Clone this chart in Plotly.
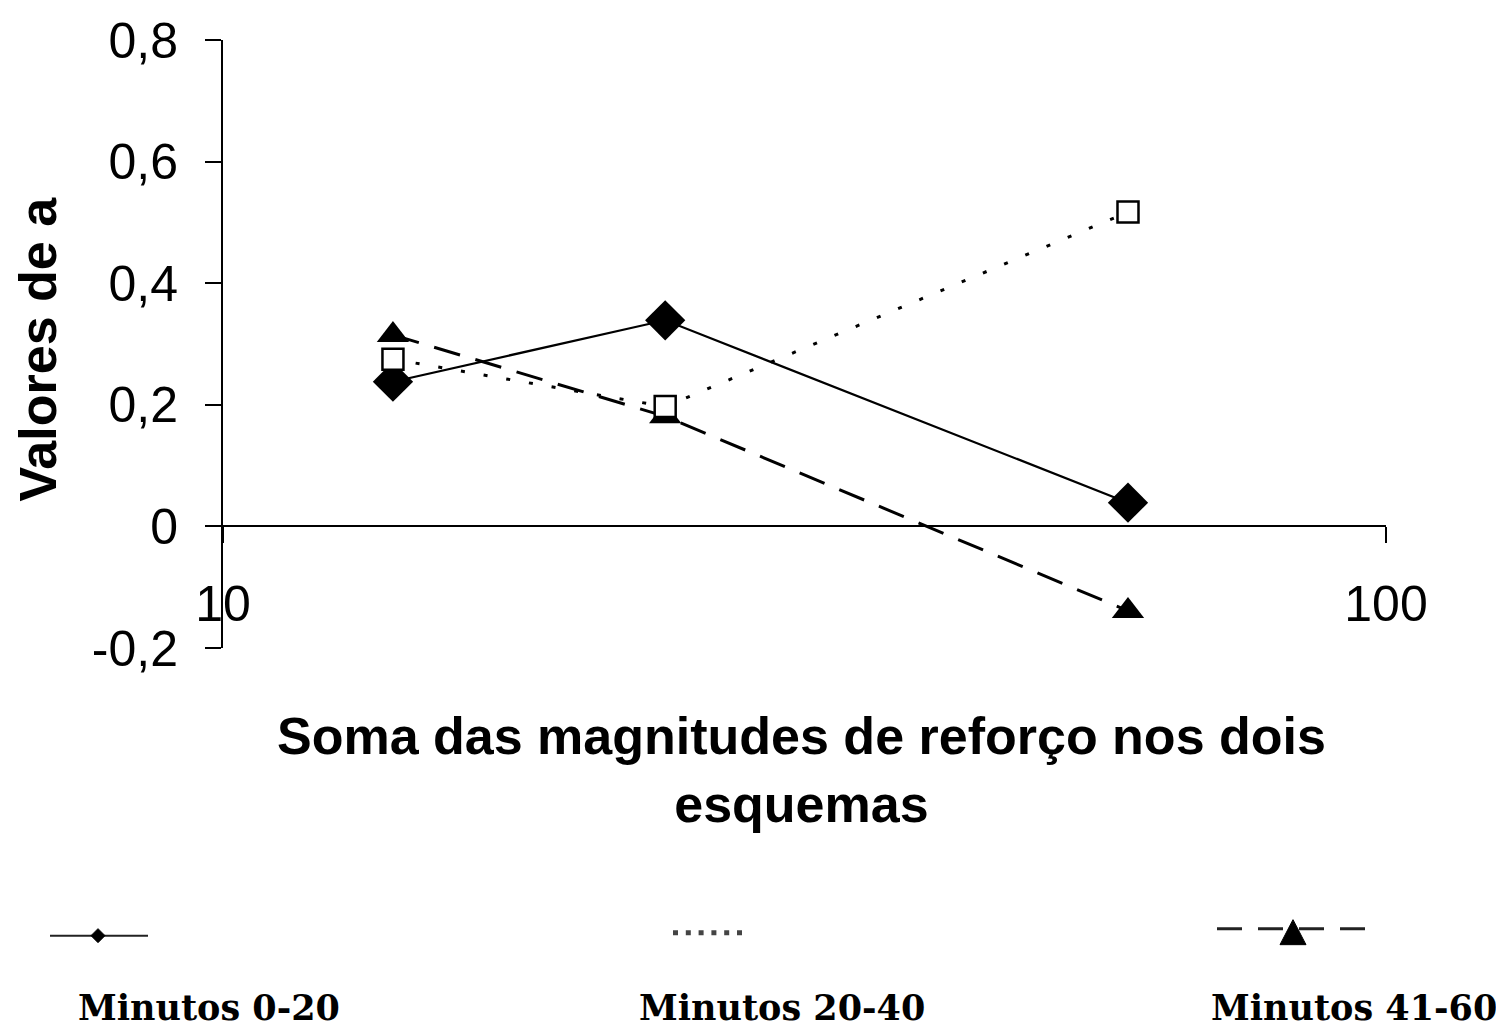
import plotly.graph_objects as go

# ---- data ----
x_vals = [14, 24, 60]
min_0_20 = [0.238, 0.339, 0.039]
min_20_40 = [0.275, 0.197, 0.517]
min_41_60 = [0.315, 0.181, -0.139]
series_names = ["Minutos 0-20", "Minutos 20-40", "Minutos 41-60"]

y_tickvals = [-0.2, 0, 0.2, 0.4, 0.6, 0.8]
y_ticktext = ["-0,2", "0", "0,2", "0,4", "0,6", "0,8"]
x_tickvals = [10, 100]
x_ticktext = ["10", "100"]

x_title = "Soma das magnitudes de reforço nos dois<br>esquemas"
y_title = "Valores de a"

# ---- layout geometry (pixels) ----
W, H = 1496, 1029
L, R, T, B = 223, 110, 35, 381
PW = W - L - R
PH = H - T - B


def px(xp):
    return (xp - L) / PW


def py(yp):
    return (H - B - yp) / PH


sans = "Liberation Sans, Arial, sans-serif"
serif = "DejaVu Serif, Georgia, serif"

fig = go.Figure()

fig.add_trace(go.Scatter(
    x=x_vals, y=min_0_20, name=series_names[0], mode="lines+markers",
    line=dict(color="black", width=2.2),
    marker=dict(symbol="diamond", size=31, color="black"),
    showlegend=False,
))
fig.add_trace(go.Scatter(
    x=x_vals, y=min_41_60, name=series_names[2], mode="lines+markers",
    line=dict(color="black", width=3, dash="27px,16px"),
    marker=dict(symbol="triangle-up", size=28, color="black"),
    showlegend=False,
))
fig.add_trace(go.Scatter(
    x=x_vals, y=min_20_40, name=series_names[1], mode="lines+markers",
    line=dict(color="black", width=3, dash="4px,19px"),
    marker=dict(symbol="square", size=21, color="white",
                line=dict(color="black", width=2.5)),
    showlegend=False,
))

fig.update_xaxes(
    type="log", range=[1, 2],
    anchor="free", position=0.2,
    showline=True, linecolor="black", linewidth=2,
    ticks="outside", ticklen=16, tickwidth=2, tickcolor="black",
    tickvals=x_tickvals, ticktext=x_ticktext,
    ticklabelstandoff=18,
    tickfont=dict(family=sans, size=50, color="black"),
    showgrid=False, zeroline=False,
)
fig.update_yaxes(
    range=[-0.2, 0.8],
    showline=True, linecolor="black", linewidth=2,
    ticks="outside", ticklen=16, tickwidth=2, tickcolor="black",
    tickvals=y_tickvals, ticktext=y_ticktext,
    ticklabelstandoff=17,
    tickfont=dict(family=sans, size=50, color="black"),
    showgrid=False, zeroline=False,
)

annotations = [
    dict(text=y_title, x=px(38), y=py(347), xref="paper", yref="paper",
         textangle=-90, showarrow=False, xanchor="center", yanchor="middle",
         font=dict(family=sans, size=52, color="black", weight="bold")),
    dict(text=x_title, x=px(801), y=py(771), xref="paper", yref="paper",
         showarrow=False, xanchor="center", yanchor="middle",
         font=dict(family=sans, size=52, color="black", weight="bold")),
]

# custom legend: sample row then label row
label_cx = [209, 782, 1354]
for name, cx in zip(series_names, label_cx):
    annotations.append(dict(
        text=name, x=px(cx), y=py(1010), xref="paper", yref="paper",
        showarrow=False, xanchor="center", yanchor="middle",
        font=dict(family=serif, size=35, color="black", weight="bold")))

shapes = [
    # series 1 sample: solid line with small diamond
    dict(type="line", xref="paper", yref="paper",
         x0=px(50), x1=px(148), y0=py(938), y1=py(938),
         line=dict(color="#222", width=2)),
    dict(type="path", xref="paper", yref="paper",
         xsizemode="pixel", ysizemode="pixel",
         xanchor=px(98), yanchor=py(938),
         path="M0,7 L7,0 L0,-7 L-7,0 Z",
         fillcolor="black", line=dict(color="black", width=1)),
    # series 2 sample: dotted
    dict(type="line", xref="paper", yref="paper",
         x0=px(673), x1=px(744), y0=py(935), y1=py(935),
         line=dict(color="#444", width=5, dash="5px,7.8px")),
    # series 3 sample: dashed line with triangle
    dict(type="line", xref="paper", yref="paper",
         x0=px(1217), x1=px(1368), y0=py(931), y1=py(931),
         line=dict(color="#222", width=3, dash="25px,16px")),
    dict(type="path", xref="paper", yref="paper",
         xsizemode="pixel", ysizemode="pixel",
         xanchor=px(1293), yanchor=py(935),
         path="M-13,-12 L13,-12 L0,13 Z",
         fillcolor="black", line=dict(color="black", width=1)),
]

fig.update_layout(
    width=W, height=H,
    margin=dict(l=L, r=R, t=T, b=B),
    paper_bgcolor="white", plot_bgcolor="white",
    annotations=annotations, shapes=shapes,
    showlegend=False,
)

fig.write_html(
    "out.html",
    config={"displayModeBar": False},
    post_script="document.body.style.margin='0px';document.body.style.overflow='hidden';",
)
